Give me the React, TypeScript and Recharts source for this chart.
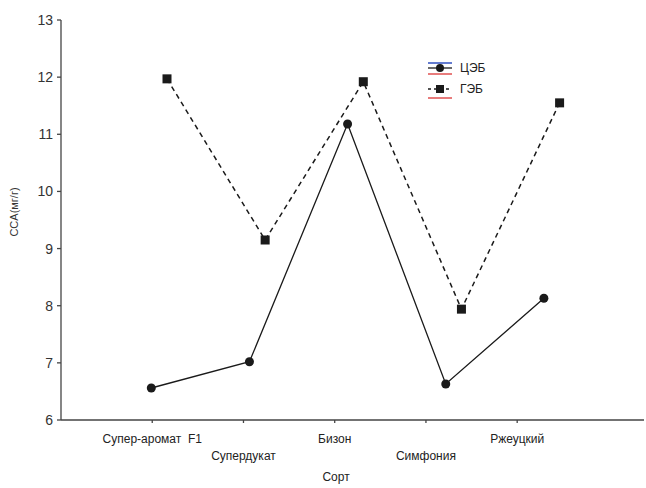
import React from 'react';
import { LineChart, Line, XAxis, YAxis, Label } from 'recharts';

// Сорта и значения ССА (мг/г)
const sorts = ['Супер-аромат  F1', 'Супердукат', 'Бизон', 'Симфония', 'Ржеуцкий'];
const tsebValues = [6.56, 7.02, 11.18, 6.63, 8.13];
const gebValues = [11.97, 9.15, 11.92, 7.94, 11.55];
const yTicks = [6, 7, 8, 9, 10, 11, 12, 13];
const labelTicks = [1, 2, 3, 4, 5];

// небольшой сдвиг серий друг от друга по X, как в оригинале
const DODGE = 0.08;

const tsebData = sorts.map((s, i) => ({ sort: s, x: i + 1 - DODGE, y: tsebValues[i] }));
const gebData = sorts.map((s, i) => ({ sort: s, x: i + 1 + DODGE, y: gebValues[i] }));
// пустая серия только для оси подписей (без значений y)
const labelData = sorts.map((s, i) => ({ sort: s, x: i + 1 }));

const INK = '#1a1a1a';
const AXIS = '#444';
const FONT = 'Arial, "Liberation Sans", sans-serif';

const SortTick = (props: any) => {
  const { x, y, payload, index } = props;
  const label = sorts[Math.round(Number(payload?.value)) - 1] ?? '';
  const dy = index % 2 === 0 ? 18 : 35;
  return (
    <text x={x} y={y + dy} textAnchor="middle" fontSize={12} fill="#222" fontFamily={FONT} style={{ whiteSpace: 'pre' }}>
      {label}
    </text>
  );
};

const Circle = (props: any) => {
  const { cx, cy } = props;
  if (cx == null || cy == null) return null;
  return <circle cx={cx} cy={cy} r={4.5} fill={INK} />;
};

const Square = (props: any) => {
  const { cx, cy } = props;
  if (cx == null || cy == null) return null;
  return <rect x={cx - 4.5} y={cy - 4.5} width={9} height={9} fill={INK} />;
};

const LegendBox = () => (
  <div style={{ position: 'absolute', left: 426, top: 58, fontFamily: FONT, fontSize: 12, color: '#222' }}>
    <svg width={80} height={44}>
      {/* ЦЭБ */}
      <line x1={2} y1={5} x2={26} y2={5} stroke="#3050c0" strokeWidth={1.5} />
      <line x1={2} y1={10} x2={26} y2={10} stroke={INK} strokeWidth={1.3} />
      <circle cx={14} cy={10} r={4} fill={INK} />
      <line x1={2} y1={16} x2={26} y2={16} stroke="#e05050" strokeWidth={1.5} />
      <text x={34} y={14} fontSize={12} fill="#222">ЦЭБ</text>
      {/* ГЭБ */}
      <line x1={2} y1={31} x2={26} y2={31} stroke={INK} strokeWidth={1.5} strokeDasharray="3 3" />
      <rect x={10} y={27} width={8} height={8} fill={INK} />
      <line x1={2} y1={40} x2={26} y2={40} stroke="#e05050" strokeWidth={1.5} />
      <text x={34} y={35} fontSize={12} fill="#222">ГЭБ</text>
    </svg>
  </div>
);

export default function App() {
  return (
    <div style={{ position: 'absolute', left: 0, top: 0, width: 646, height: 488, background: '#fff' }}>
      <LineChart width={646} height={488} margin={{ top: 20, right: 2, bottom: 0, left: 0 }}>
        <XAxis
          xAxisId="sort"
          type="number"
          dataKey="x"
          domain={[0, 6.39]}
          allowDataOverflow
          ticks={labelTicks}
          tick={(p: any) => <SortTick {...p} />}
          tickSize={3}
          height={68}
          stroke={AXIS}
          strokeWidth={1.3}
          interval={0}
        >
          <Label
            content={(p: any) => {
              const vb = p.viewBox || {};
              return (
                <text x={336} y={(vb.y ?? 420) + 61} textAnchor="middle" fontSize={12} fill="#222" fontFamily={FONT}>
                  Сорт
                </text>
              );
            }}
          />
        </XAxis>
        <XAxis xAxisId="pts" type="number" dataKey="x" domain={[0, 5.94]} allowDataOverflow hide orientation="top" height={0} />
        <YAxis
          type="number"
          domain={[6, 13]}
          ticks={yTicks}
          interval={0}
          width={61}
          tickSize={4}
          tickMargin={4}
          stroke={AXIS}
          strokeWidth={1.3}
          tick={{ fontSize: 14, fill: '#333', fontFamily: FONT }}
        >
          <Label
            content={() => (
              <text
                x={18}
                y={212}
                transform="rotate(-90 18 212)"
                textAnchor="middle"
                fontSize={11}
                fill="#333"
                fontFamily={FONT}
              >
                CCA(мг/г)
              </text>
            )}
          />
        </YAxis>
        <Line
          xAxisId="sort"
          data={labelData}
          dataKey="y"
          stroke="none"
          dot={false}
          activeDot={false}
          legendType="none"
          isAnimationActive={false}
        />
        <Line
          xAxisId="pts"
          data={tsebData}
          dataKey="y"
          name="ЦЭБ"
          stroke={INK}
          strokeWidth={1.3}
          dot={<Circle />}
          activeDot={false}
          isAnimationActive={false}
        />
        <Line
          xAxisId="pts"
          data={gebData}
          dataKey="y"
          name="ГЭБ"
          stroke={INK}
          strokeWidth={1.5}
          strokeDasharray="5 4"
          dot={<Square />}
          activeDot={false}
          isAnimationActive={false}
        />
      </LineChart>
      <LegendBox />
    </div>
  );
}
